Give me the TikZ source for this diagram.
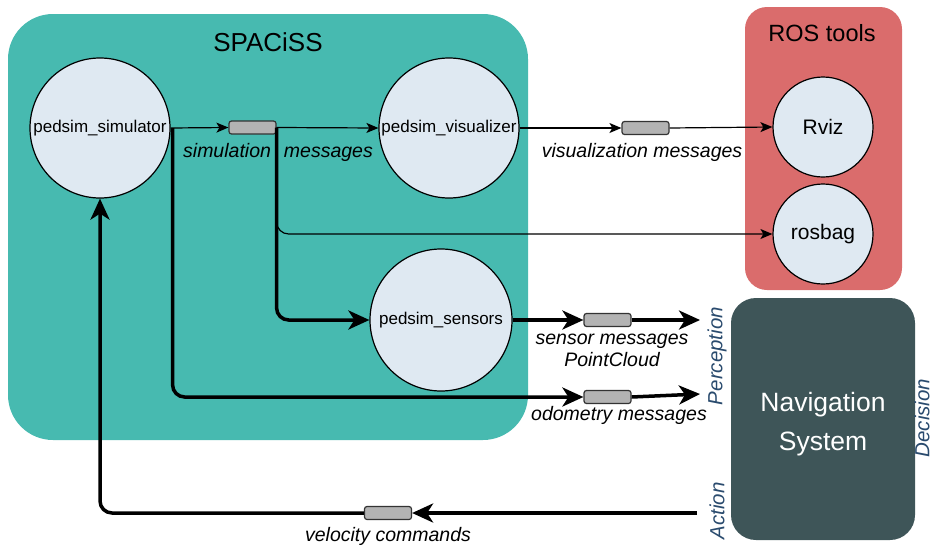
\documentclass[tikz,border=0pt]{standalone}
\usepackage{fontspec}
\setmainfont{Liberation Sans}
\usetikzlibrary{arrows.meta}
\definecolor{spteal}{RGB}{71,186,176}
\definecolor{rosred}{RGB}{218,108,108}
\definecolor{cfill}{RGB}{223,233,242}
\definecolor{mgray}{RGB}{179,179,179}
\definecolor{navc}{RGB}{62,85,88}
\definecolor{phase}{RGB}{42,75,110}
\begin{document}
\begin{tikzpicture}[x=1pt,y=-1pt,
  proc/.style={circle, draw=black, line width=1.2pt, fill=cfill, inner sep=0pt, font=\fontsize{17}{20}\selectfont},
  msg/.style={rectangle, rounded corners=2.5pt, draw=black!80, line width=1.2pt, fill=mgray, minimum width=47pt, minimum height=13pt, inner sep=0pt},
  lbl/.style={font=\fontsize{19.5}{23}\selectfont\itshape, inner sep=0pt},
  phaselbl/.style={font=\fontsize{20.5}{24}\selectfont\itshape, text=phase, rotate=90, inner sep=0pt},
  container/.style={inner sep=0pt},
  thinarrow/.style={line width=1.2pt, -{Stealth[length=12pt,width=10pt,inset=3pt]}},
  thickarrow/.style={line width=3.5pt, -{Stealth[length=21pt,width=19pt,inset=6pt]}}
]
\useasboundingbox (0,0) rectangle (933,546);

% containers
\node[container, fill=spteal, rounded corners=45pt, minimum width=520pt, minimum height=426pt] (spaciss) at (268,227) {};
\node[font=\fontsize{26}{30}\selectfont] (spacissT) at (268,42) {SPACiSS};
\node[container, fill=rosred, rounded corners=22pt, minimum width=157pt, minimum height=283pt] (ros) at (823.5,148.5) {};
\node[font=\fontsize{23.5}{28}\selectfont] (rosT) at (822,33) {ROS tools};
\node[container, fill=navc, rounded corners=25pt, minimum width=184pt, minimum height=242pt] (nav) at (823,419) {};
\node[text=white, align=center, font=\fontsize{26.5}{39}\selectfont, inner sep=0pt] (navT) at (823,424) {Navigation\\System};

% processes
\node[proc, minimum size=140pt] (sim) at (100,128) {pedsim\_simulator};
\node[proc, minimum size=140pt] (vis) at (449,128) {pedsim\_visualizer};
\node[proc, minimum size=142pt] (sens) at (441,320) {pedsim\_sensors};
\node[proc, minimum size=100pt, font=\fontsize{21}{24}\selectfont] (rviz) at (823,127) {Rviz};
\node[proc, minimum size=100pt, font=\fontsize{21}{24}\selectfont] (rosbag) at (823,234) {rosbag};

% message boxes
\node[msg] (simmsg) at (252.5,127.5) {};
\node[msg] (vismsg) at (645.5,128) {};
\node[msg] (sensmsg) at (607.5,320) {};
\node[msg] (odomsg) at (607.5,397) {};
\node[msg] (velmsg) at (388,513) {};

\coordinate (sensend) at (700,320);
\coordinate (odoend) at (700,394);
\coordinate (velstart) at (697,513);

% connectors
\draw[thinarrow] (sim.east) -- (simmsg.west);
\draw[thinarrow] (simmsg.east) -- (vis.west);
\draw[thinarrow, rounded corners=12pt] (simmsg.east) |- (rosbag.west);
\draw[thinarrow] (vis.east) -- (vismsg.west);
\draw[thinarrow] (vismsg.east) -- (rviz.west);
\draw[thickarrow, rounded corners=12pt] (simmsg.east) |- (sens.west);
\draw[thickarrow, rounded corners=12pt] ([xshift=2pt]sim.east) |- (odomsg.west);
\draw[thickarrow] (sens.east) -- (sensmsg.west);
\draw[thickarrow] (sensmsg.east) -- (sensend);
\draw[thickarrow] (odomsg.east) -- (odoend);
\draw[thickarrow] (velstart) -- (velmsg.east);
\draw[thickarrow, rounded corners=12pt] (velmsg.west) -| (sim.south);

% labels
\node[lbl] (l1) at (278,152) {simulation\hspace{13pt}messages};
\node[lbl] (l2) at (642,152) {visualization messages};
\node[lbl] (l3) at (612,341) {sensor messages};
\node[lbl] (l4) at (612,360) {PointCloud};
\node[lbl] (l5) at (619,415) {odometry messages};
\node[lbl] (l6) at (388,536) {velocity commands};

\node[phaselbl] (perc) at (717,356) {Perception};
\node[phaselbl] (dec) at (922,418) {Decision};
\node[phaselbl] (act) at (717,511) {Action};
\end{tikzpicture}
\end{document}
